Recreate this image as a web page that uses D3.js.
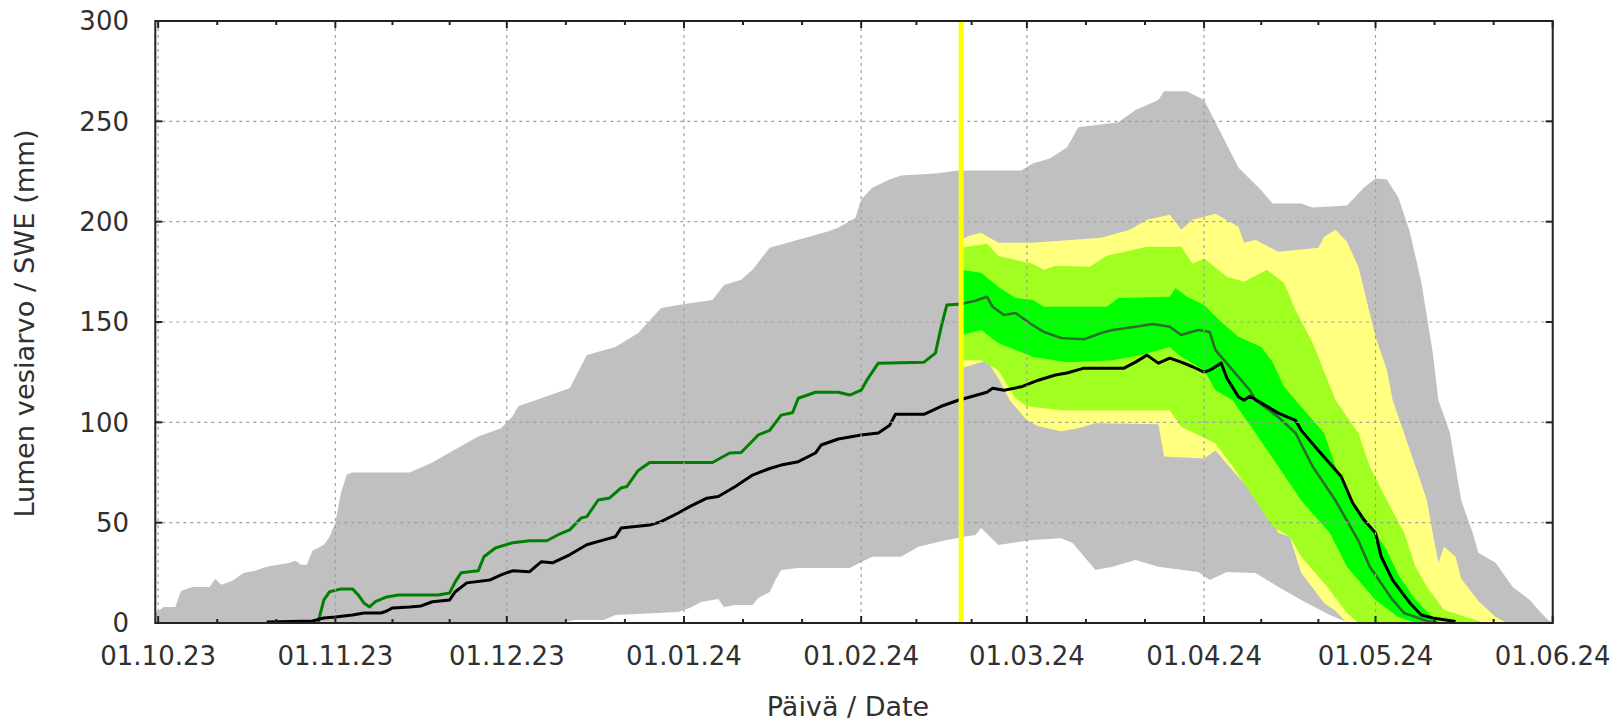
<!DOCTYPE html>
<html><head><meta charset="utf-8">
<script src="https://cdn.jsdelivr.net/npm/d3@7"></script>
<style>
body{margin:0;background:#fff}
svg{display:block}
text{font-family:"DejaVu Sans",sans-serif;fill:#303030}
</style>
</head><body>
<svg id="chart" width="1611" height="721"></svg>
<script>
// ---------------- DATA ----------------
const xTickDates  = ["2023-10-01","2023-11-01","2023-12-01","2024-01-01","2024-02-01","2024-03-01","2024-04-01","2024-05-01","2024-06-01"];
const xTickLabels = ["01.10.23","01.11.23","01.12.23","01.01.24","01.02.24","01.03.24","01.04.24","01.05.24","01.06.24"];
const yTicks = [0,50,100,150,200,250,300];
const xDomain = ["2023-09-30T12:00","2024-06-01T00:00"];
const yDomain = [0,300];
const forecastStart = "2024-02-18T12:00";
const yLabel = "Lumen vesiarvo / SWE (mm)";
const xLabel = "Päivä / Date";

// historical range (grey)
const grayUpper = [["2023-09-30T12:00",5],["2023-10-02",8],["2023-10-04",8],["2023-10-05",16],["2023-10-07",18],["2023-10-10",18],["2023-10-11",22],["2023-10-12",19],["2023-10-14",21],["2023-10-16",25],["2023-10-18",26],["2023-10-20",28],["2023-10-24",30],["2023-10-25",31],["2023-10-26",29],["2023-10-27",29],["2023-10-28",36],["2023-10-30",39],["2023-10-31",43],["2023-11-01",50],["2023-11-02",65],["2023-11-03",74],["2023-11-04",75],["2023-11-14",75],["2023-11-18",80],["2023-11-21",85],["2023-11-26",93],["2023-11-30",97],["2023-12-02",103],["2023-12-03",108],["2023-12-07",112],["2023-12-11",116],["2023-12-12",117],["2023-12-15",133.5],["2023-12-20",137.5],["2023-12-24",144.5],["2023-12-28",157],["2023-12-31",158.5],["2024-01-06",161],["2024-01-08",168.5],["2024-01-11",171],["2024-01-13",176],["2024-01-16",187],["2024-01-21",191],["2024-01-26",195],["2024-01-28",197],["2024-01-31",202],["2024-02-01",211],["2024-02-03",217],["2024-02-06",221],["2024-02-08",223],["2024-02-14",224],["2024-02-18",225.5],["2024-02-29",225.5],["2024-03-02",229],["2024-03-05",231.5],["2024-03-08",237],["2024-03-10",247],["2024-03-17",249.6],["2024-03-20",255.6],["2024-03-24",260.6],["2024-03-25",265],["2024-03-29",265],["2024-04-01",260.6],["2024-04-03",249.6],["2024-04-07",227],["2024-04-11",215.7],["2024-04-13",209],["2024-04-18",209],["2024-04-20",207],["2024-04-26",208],["2024-04-29",217],["2024-05-01",221.5],["2024-05-03",221],["2024-05-05",212],["2024-05-07",195],["2024-05-09",170],["2024-05-11",135],["2024-05-12",111],["2024-05-14",95],["2024-05-15",78],["2024-05-16",61],["2024-05-18",45],["2024-05-19",35],["2024-05-22",30],["2024-05-25",18],["2024-05-28",11.5],["2024-05-30",5],["2024-05-31",2],["2024-06-01",0]];
const grayLower = [["2023-09-30T12:00",0],["2023-12-01",0],["2023-12-02",0.5],["2023-12-11",0.5],["2023-12-13",1.5],["2023-12-18",1.5],["2023-12-20",4],["2023-12-31",5.5],["2024-01-02",7.5],["2024-01-04",10.5],["2024-01-07",12],["2024-01-08",8],["2024-01-10",9],["2024-01-13",9],["2024-01-14",12.5],["2024-01-16",15.5],["2024-01-17",21.4],["2024-01-18",26.4],["2024-01-21",27.4],["2024-01-30",27.4],["2024-02-01",30.4],["2024-02-03",33],["2024-02-08",33],["2024-02-11",38],["2024-02-16",41.4],["2024-02-19",43],["2024-02-21",43.8],["2024-02-22",47.3],["2024-02-25",38.9],["2024-03-02",41.4],["2024-03-07",42.2],["2024-03-09",39.9],["2024-03-13",26.4],["2024-03-16",28],["2024-03-20",31.4],["2024-03-24",28],["2024-03-31",25.4],["2024-04-02",21.4],["2024-04-05",25.4],["2024-04-10",24.9],["2024-04-14",18],["2024-04-18",11.5],["2024-04-23",4],["2024-04-26",0.5],["2024-04-28",0],["2024-06-01",0]];

// forecast bands
const yellowUpper = [["2024-02-18T12:00",191],["2024-02-20",193],["2024-02-22",194.5],["2024-02-25",189.5],["2024-03-02",189.5],["2024-03-14",192],["2024-03-19",196],["2024-03-22",201],["2024-03-26",203.4],["2024-03-28",196],["2024-03-30",201],["2024-04-03",204],["2024-04-07",197.5],["2024-04-08",189.5],["2024-04-10",191],["2024-04-14",185],["2024-04-21",187],["2024-04-22",192.5],["2024-04-24",196],["2024-04-26",190],["2024-04-28",177.5],["2024-05-01",142.6],["2024-05-03",126],["2024-05-04",111],["2024-05-08",78],["2024-05-10",61],["2024-05-11",45],["2024-05-12",30],["2024-05-13",38],["2024-05-15",33],["2024-05-16",22],["2024-05-19",11],["2024-05-22",3],["2024-05-24",0]];
const yellowLower = [["2024-02-18T12:00",127],["2024-02-22",130],["2024-02-23",131],["2024-02-25",122],["2024-02-27",111],["2024-03-01",101],["2024-03-03",98],["2024-03-07",95.5],["2024-03-10",97],["2024-03-13",99.6],["2024-03-24",99],["2024-03-25",83],["2024-04-01",82],["2024-04-03",86],["2024-04-06",76],["2024-04-11",60],["2024-04-14",45],["2024-04-16",43],["2024-04-18",25],["2024-04-22",10],["2024-04-24",6],["2024-04-26",0],["2024-05-24",0]];
const lightGreenUpper = [["2024-02-18T12:00",187],["2024-02-23",189],["2024-02-25",183],["2024-03-02",179],["2024-03-04",176],["2024-03-06",178],["2024-03-12",177.5],["2024-03-15",183],["2024-03-22",187.5],["2024-03-28",187.5],["2024-03-30",179],["2024-04-01",181.6],["2024-04-05",172.6],["2024-04-08",170],["2024-04-12",176],["2024-04-15",169.4],["2024-04-17",156],["2024-04-20",139.5],["2024-04-24",111],["2024-04-28",94.7],["2024-04-30",78],["2024-05-03",61],["2024-05-06",45],["2024-05-08",28],["2024-05-10",18],["2024-05-13",6.5],["2024-05-19",1],["2024-05-20",0]];
const lightGreenLower = [["2024-02-18T12:00",131],["2024-02-22",131],["2024-02-25",126],["2024-02-28",112],["2024-03-01",108],["2024-03-07",106],["2024-03-26",106],["2024-03-28",97.8],["2024-04-03",89.6],["2024-04-06",78],["2024-04-10",61],["2024-04-13",48],["2024-04-16",43],["2024-04-18",33],["2024-04-23",16.4],["2024-04-26",5],["2024-04-28",0],["2024-05-20",0]];
const greenUpper = [["2024-02-18T12:00",176],["2024-02-22",174.5],["2024-02-25",167.6],["2024-02-28",162],["2024-03-02",161],["2024-03-04",157.6],["2024-03-15",157.6],["2024-03-17",162],["2024-03-26",162.6],["2024-03-27",167],["2024-03-29",162.6],["2024-04-01",158.5],["2024-04-04",150],["2024-04-07",142.6],["2024-04-11",137.6],["2024-04-13",130],["2024-04-15",117.7],["2024-04-17",111],["2024-04-22",94.7],["2024-04-24",78],["2024-04-27",61],["2024-05-01",45],["2024-05-03",36],["2024-05-05",24],["2024-05-08",11.5],["2024-05-11",3],["2024-05-12",0]];
const greenLower = [["2024-02-18T12:00",143.5],["2024-02-22",146],["2024-02-25",139.5],["2024-03-02",132.7],["2024-03-08",130],["2024-03-16",131],["2024-03-21",133.5],["2024-03-26",137.6],["2024-03-28",132.7],["2024-04-01",126],["2024-04-03",116],["2024-04-06",111],["2024-04-10",94.7],["2024-04-14",78],["2024-04-18",61],["2024-04-23",45],["2024-04-26",28],["2024-05-01",11.5],["2024-05-05",3],["2024-05-08",0],["2024-05-12",0]];

// lines
const observed = [["2023-10-29",0.5],["2023-10-30",11.5],["2023-10-31",15.6],["2023-11-02",17],["2023-11-04",17],["2023-11-05",14],["2023-11-06",10],["2023-11-07",8],["2023-11-08",10.6],["2023-11-10",13],["2023-11-12",14],["2023-11-19",14],["2023-11-21",15],["2023-11-22",20.6],["2023-11-23",25],["2023-11-26",26],["2023-11-27",33],["2023-11-29",37.4],["2023-12-02",40],["2023-12-05",41],["2023-12-08",41],["2023-12-10",44],["2023-12-12",46.4],["2023-12-14",52.3],["2023-12-15",53],["2023-12-17",61.3],["2023-12-19",62.3],["2023-12-21",67.3],["2023-12-22",68],["2023-12-24",76],["2023-12-26",80],["2024-01-06",80],["2024-01-09",84.7],["2024-01-11",85],["2024-01-14",93.7],["2024-01-16",96],["2024-01-18",103.6],["2024-01-20",104.8],["2024-01-21",112],["2024-01-24",115],["2024-01-28",115],["2024-01-30",113.6],["2024-02-01",116],["2024-02-02",121],["2024-02-04",129.5],["2024-02-12",130],["2024-02-14",134.5],["2024-02-15",147.6],["2024-02-16",158.5],["2024-02-18T12:00",159]];
const forecastMedian = [["2024-02-18T12:00",159],["2024-02-21",160.6],["2024-02-23",162.6],["2024-02-24",157.6],["2024-02-26",153.5],["2024-02-28",154.5],["2024-03-02",148.5],["2024-03-04",145],["2024-03-07",142],["2024-03-11",141.4],["2024-03-14",144.5],["2024-03-16",146],["2024-03-20",147.6],["2024-03-23",149],["2024-03-26",147.6],["2024-03-28",143.5],["2024-03-31",146],["2024-04-02",145],["2024-04-03",136],["2024-04-06",126],["2024-04-09",116],["2024-04-10",111],["2024-04-14",102.6],["2024-04-17",94.7],["2024-04-20",78],["2024-04-24",61],["2024-04-28",41],["2024-04-30",28],["2024-05-04",11.5],["2024-05-06",5],["2024-05-10",1],["2024-05-12",0]];
const historicalMedian = [["2023-10-20",0.5],["2023-10-28",1],["2023-10-30",2.5],["2023-11-01",3],["2023-11-04",4],["2023-11-06",5],["2023-11-09",5],["2023-11-10",6],["2023-11-11",7.5],["2023-11-14",8],["2023-11-16",8.5],["2023-11-18",10.6],["2023-11-21",11.5],["2023-11-22",15.6],["2023-11-24",20],["2023-11-28",21.4],["2023-11-30",24],["2023-12-02",26],["2023-12-05",25.6],["2023-12-07",30.5],["2023-12-09",30],["2023-12-12",34],["2023-12-15",39],["2023-12-18",41.4],["2023-12-20",43],["2023-12-21",47.3],["2023-12-26",48.8],["2023-12-28",50.5],["2023-12-31",54.8],["2024-01-02",58],["2024-01-05",62.2],["2024-01-07",63],["2024-01-10",68],["2024-01-13",73.7],["2024-01-16",77],["2024-01-18",78.7],["2024-01-21",80.4],["2024-01-24",84.7],["2024-01-25",88.7],["2024-01-28",91.7],["2024-02-01",93.7],["2024-02-04",94.7],["2024-02-06",98.6],["2024-02-07",104],["2024-02-12",104],["2024-02-15",108],["2024-02-18",111],["2024-02-23",115],["2024-02-24",117],["2024-02-26",116],["2024-02-29",117.7],["2024-03-03",121],["2024-03-06",123.6],["2024-03-08",124.6],["2024-03-11",127],["2024-03-18",127],["2024-03-20",130],["2024-03-22",133.5],["2024-03-24",129.5],["2024-03-26",132],["2024-03-28",130],["2024-03-30",127.7],["2024-04-01",125],["2024-04-02",126],["2024-04-04",129.5],["2024-04-05",122],["2024-04-07",112.8],["2024-04-08",111],["2024-04-09",113],["2024-04-14",104.6],["2024-04-17",101],["2024-04-18",96],["2024-04-21",86],["2024-04-25",73],["2024-04-27",59.8],["2024-04-29",51.3],["2024-05-01",44.8],["2024-05-02",33],["2024-05-04",21.4],["2024-05-07",10],["2024-05-09",4],["2024-05-11",2.5],["2024-05-15",0.8]];

// ---------------- DRAW ----------------
const W = 1611, H = 721;
const m = {left:155.3, right:W-1552.7, top:21, bottom:H-623};
const parse = s => new Date(s.length > 10 ? s : s + "T00:00");
const svg = d3.select("#chart");

const x = d3.scaleTime().domain(xDomain.map(parse)).range([m.left, W - m.right]);
const y = d3.scaleLinear().domain(yDomain).range([H - m.bottom, m.top]);

svg.append("clipPath").attr("id","plotclip").append("rect")
  .attr("x", m.left).attr("y", m.top).attr("width", x.range()[1]-m.left).attr("height", y(0)-m.top);

const plot = svg.append("g").attr("clip-path","url(#plotclip)");
const line = d3.line().x(d => x(parse(d[0]))).y(d => y(d[1]));

function band(upper, lower, color){
  const pts = upper.concat(lower.slice().reverse());
  plot.append("path").attr("d", line(pts) + "Z").attr("fill", color).attr("stroke", "none");
}
band(grayUpper, grayLower, "#c0c0c0");
band(yellowUpper, yellowLower, "#ffff80");
band(lightGreenUpper, lightGreenLower, "#a0ff20");
band(greenUpper, greenLower, "#00ff00");

// grid
const gridG = svg.append("g");
const xTickD = xTickDates.map(parse);
gridG.selectAll("line.gx").data(xTickD).enter().append("line")
  .attr("x1", d => x(d)).attr("x2", d => x(d)).attr("y1", y(300)).attr("y2", y(0))
  .attr("stroke", "#a0a0a0").attr("stroke-width", 1.2).attr("stroke-dasharray", "3,4");
gridG.selectAll("line.gy").data(yTicks.filter(v => v > 0 && v < 300)).enter().append("line")
  .attr("x1", m.left).attr("x2", W - m.right).attr("y1", d => y(d)).attr("y2", d => y(d))
  .attr("stroke", "#a0a0a0").attr("stroke-width", 1.2).attr("stroke-dasharray", "3,4");

// forecast start line
svg.append("line")
  .attr("x1", x(parse(forecastStart))).attr("x2", x(parse(forecastStart)))
  .attr("y1", y(300)).attr("y2", y(0))
  .attr("stroke", "#ffff00").attr("stroke-width", 5);

// series lines
plot.append("path").attr("d", line(forecastMedian)).attr("fill","none")
  .attr("stroke","#2a6e2a").attr("stroke-width",2.6).attr("stroke-linejoin","round");
plot.append("path").attr("d", line(observed)).attr("fill","none")
  .attr("stroke","#008000").attr("stroke-width",3).attr("stroke-linejoin","round");
plot.append("path").attr("d", line(historicalMedian)).attr("fill","none")
  .attr("stroke","#000").attr("stroke-width",3).attr("stroke-linejoin","round");

// frame
svg.append("rect").attr("x", m.left).attr("y", m.top)
  .attr("width", x.range()[1]-m.left).attr("height", y(0)-m.top)
  .attr("fill","none").attr("stroke","#222").attr("stroke-width",2);

// x ticks (major + minor thirds), bottom and top, inward
const axisG = svg.append("g").attr("stroke","#222").attr("stroke-width",2);
const minorD = [];
for (let i = 0; i < xTickD.length - 1; i++) {
  const a = +xTickD[i], b = +xTickD[i+1];
  minorD.push(new Date(a + (b-a)/3), new Date(a + 2*(b-a)/3));
}
xTickD.forEach(d => {
  axisG.append("line").attr("x1", x(d)).attr("x2", x(d)).attr("y1", y(0)).attr("y2", y(0)-7);
  axisG.append("line").attr("x1", x(d)).attr("x2", x(d)).attr("y1", y(300)).attr("y2", y(300)+7);
});
minorD.forEach(d => {
  axisG.append("line").attr("x1", x(d)).attr("x2", x(d)).attr("y1", y(0)).attr("y2", y(0)-4);
  axisG.append("line").attr("x1", x(d)).attr("x2", x(d)).attr("y1", y(300)).attr("y2", y(300)+4);
});
yTicks.forEach(v => {
  axisG.append("line").attr("x1", m.left).attr("x2", m.left+7).attr("y1", y(v)).attr("y2", y(v));
  axisG.append("line").attr("x1", W-m.right).attr("x2", W-m.right-7).attr("y1", y(v)).attr("y2", y(v));
});

// tick labels
svg.append("g").selectAll("text").data(xTickD).enter().append("text")
  .attr("x", d => x(d)).attr("y", 665).attr("text-anchor","middle")
  .attr("font-size", 26).text((d,i) => xTickLabels[i]);
svg.append("g").selectAll("text").data(yTicks).enter().append("text")
  .attr("x", 129).attr("y", d => y(d)).attr("dy","0.36em").attr("text-anchor","end")
  .attr("font-size", 26).text(d => d);

// axis titles
svg.append("text").attr("transform","translate(34,323.5) rotate(-90)")
  .attr("text-anchor","middle").attr("font-size",27.3).text(yLabel);
svg.append("text").attr("x", 848).attr("y", 716).attr("text-anchor","middle")
  .attr("font-size",27).text(xLabel);
</script>
</body></html>
